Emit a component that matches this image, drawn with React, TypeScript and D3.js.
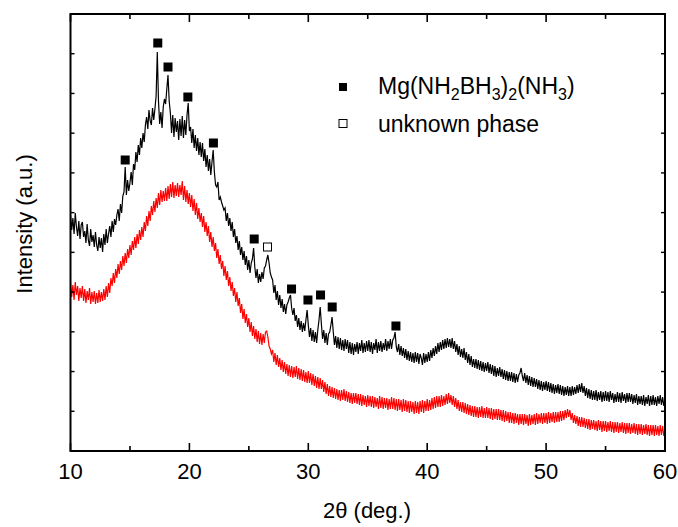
import React from "react";
import * as d3 from "d3";

// 2θ sampling grid: 10.0 … 60.0 in 0.1° steps (501 points)
const thetaStart = 10;
const thetaStep = 0.1;

// Upper (black) pattern, one row per degree
const blackIntensity: number[] = [
  236, 221, 233, 217, 238, 224, 215, 230, 212, 226,
  229, 214, 220, 208, 227, 211, 205, 222, 209, 216,
  204, 219, 206, 200, 214, 203, 213, 199, 217, 206,
  222, 208, 217, 225, 214, 230, 219, 232, 226, 236,
  242, 230, 247, 238, 255, 259, 284, 256, 271, 260,
  268, 279, 266, 287, 281, 299, 289, 306, 296, 313,
  303, 318, 309, 326, 334, 322, 341, 330, 326, 343,
  331, 342, 355, 399, 350, 327, 339, 323, 344, 352,
  347, 362, 376, 350, 338, 318, 336, 314, 333, 319,
  330, 311, 332, 315, 335, 313, 331, 316, 336, 348,
  320, 324, 308, 322, 303, 316, 300, 313, 296, 309,
  294, 308, 290, 302, 284, 296, 280, 292, 276, 289,
  301, 279, 266, 264, 269, 251, 254, 249, 245, 241,
  243, 230, 238, 225, 233, 220, 229, 214, 222, 208,
  215, 201, 210, 196, 204, 191, 200, 186, 195, 181,
  191, 178, 188, 192, 203, 184, 173, 182, 168, 177,
  169, 179, 172, 183, 185, 191, 196, 188, 178, 174,
  171, 158, 166, 151, 160, 146, 156, 143, 152, 139,
  147, 137, 146, 149, 153, 156, 143, 136, 143, 130,
  136, 124, 133, 121, 130, 119, 128, 120, 131, 141,
  126, 114, 123, 110, 121, 109, 119, 108, 121, 131,
  144, 127, 112, 121, 108, 118, 106, 117, 119, 126,
  134, 119, 106, 115, 103, 114, 102, 113, 101, 111,
  100, 112, 102, 111, 98, 109, 97, 108, 96, 107,
  99, 109, 97, 108, 100, 111, 98, 108, 99, 110,
  100, 111, 99, 109, 97, 108, 101, 112, 98, 109,
  100, 110, 99, 108, 101, 112, 100, 110, 102, 112,
  102, 111, 113, 119, 104, 99, 107, 96, 105, 95,
  103, 93, 102, 91, 100, 90, 99, 89, 98, 88,
  99, 89, 98, 87, 97, 93, 86, 98, 88, 97,
  89, 99, 90, 101, 93, 103, 95, 105, 97, 108,
  99, 109, 101, 111, 102, 112, 103, 113, 104, 112,
  103, 113, 102, 110, 99, 107, 96, 105, 94, 102,
  93, 103, 91, 99, 88, 97, 86, 95, 84, 92,
  83, 92, 82, 91, 81, 90, 80, 89, 79, 88,
  80, 89, 78, 87, 77, 86, 75, 85, 74, 83,
  75, 84, 74, 82, 72, 81, 71, 80, 70, 79,
  70, 79, 69, 78, 68, 77, 69, 76, 78, 83,
  75, 70, 78, 68, 76, 66, 75, 65, 74, 64,
  73, 64, 72, 62, 71, 61, 70, 60, 69, 61,
  70, 60, 69, 59, 68, 58, 67, 57, 66, 58,
  67, 57, 66, 56, 65, 55, 64, 56, 65, 55,
  64, 55, 65, 56, 64, 57, 66, 58, 67, 59,
  68, 58, 65, 55, 63, 53, 62, 52, 61, 51,
  60, 51, 61, 50, 59, 51, 60, 49, 59, 50,
  60, 50, 59, 49, 60, 51, 58, 48, 57, 49,
  59, 49, 58, 48, 59, 50, 57, 48, 58, 49,
  58, 49, 57, 47, 56, 48, 57, 46, 55, 47,
  55, 46, 56, 45, 54, 47, 56, 45, 55, 46,
  56, 46, 54, 45, 55, 47, 56, 46, 54, 45,
  52,
];

// Lower (red) pattern
const redIntensity: number[] = [
  168, 154, 166, 151, 169, 156, 165, 150, 163, 153,
  165, 150, 162, 148, 160, 151, 163, 147, 159, 149,
  160, 147, 158, 148, 161, 149, 159, 150, 162, 151,
  165, 154, 168, 158, 173, 165, 178, 168, 182, 173,
  187, 177, 190, 181, 195, 185, 198, 188, 202, 193,
  206, 196, 210, 201, 214, 203, 217, 207, 221, 211,
  224, 214, 229, 220, 235, 225, 240, 230, 245, 236,
  250, 239, 253, 243, 258, 246, 261, 249, 260, 250,
  263, 250, 265, 252, 267, 254, 269, 253, 266, 255,
  268, 254, 266, 256, 270, 251, 265, 249, 261, 247,
  258, 244, 256, 240, 252, 236, 248, 232, 243, 229,
  238, 224, 235, 219, 229, 215, 225, 209, 219, 204,
  214, 200, 208, 193, 202, 187, 196, 182, 190, 175,
  185, 171, 180, 165, 174, 160, 169, 155, 163, 149,
  159, 145, 153, 138, 147, 132, 142, 128, 137, 124,
  133, 119, 129, 115, 125, 112, 122, 109, 120, 107,
  118, 106, 117, 108, 119, 120, 114, 105, 102, 97,
  101, 89, 98, 86, 96, 84, 93, 81, 91, 79,
  89, 77, 87, 75, 86, 74, 85, 73, 84, 74,
  85, 72, 83, 71, 82, 70, 81, 69, 79, 68,
  80, 68, 78, 66, 77, 65, 75, 63, 74, 62,
  73, 62, 71, 59, 69, 57, 67, 55, 65, 54,
  64, 53, 63, 52, 62, 51, 61, 50, 61, 51,
  62, 50, 60, 49, 59, 48, 58, 47, 58, 48,
  58, 47, 57, 46, 57, 45, 56, 46, 55, 44,
  56, 45, 55, 44, 55, 43, 54, 44, 53, 42,
  55, 43, 54, 42, 53, 43, 53, 41, 52, 42,
  54, 42, 53, 41, 52, 40, 52, 41, 51, 39,
  52, 40, 51, 39, 50, 38, 50, 39, 49, 37,
  50, 38, 49, 37, 50, 39, 51, 38, 50, 40,
  52, 40, 51, 41, 53, 42, 54, 43, 55, 44,
  55, 44, 56, 45, 55, 46, 57, 47, 58, 48,
  56, 46, 55, 44, 53, 42, 51, 40, 49, 39,
  49, 38, 48, 37, 47, 36, 46, 35, 45, 34,
  45, 34, 44, 33, 44, 34, 45, 33, 43, 33,
  44, 33, 43, 32, 43, 31, 42, 32, 42, 31,
  42, 31, 41, 30, 41, 29, 40, 30, 39, 28,
  39, 28, 38, 27, 38, 28, 37, 26, 37, 27,
  37, 26, 37, 27, 36, 25, 37, 26, 36, 27,
  37, 26, 38, 27, 37, 28, 38, 27, 38, 28,
  38, 27, 39, 28, 38, 29, 39, 28, 39, 29,
  39, 29, 40, 30, 40, 31, 41, 33, 42, 34,
  41, 31, 38, 28, 36, 27, 35, 25, 34, 24,
  34, 24, 33, 23, 32, 22, 32, 21, 31, 22,
  31, 21, 30, 20, 31, 21, 30, 19, 30, 20,
  30, 19, 29, 20, 30, 19, 29, 18, 29, 19,
  29, 18, 28, 19, 29, 18, 28, 17, 28, 18,
  28, 17, 27, 18, 28, 17, 27, 16, 27, 17,
  27, 16, 26, 17, 27, 16, 26, 15, 26, 16,
  26, 15, 26, 16, 25, 15, 26, 16, 25, 15,
  21,
];

// Peak markers (filled = Mg(NH2BH3)2(NH3), open = unknown phase)
const mgPeakTheta = [14.6, 17.34, 18.2, 19.87, 22.02, 25.45, 28.59, 29.97, 31.03, 32.01, 37.37];
const mgPeakIntensity = [291, 408, 384, 354, 308, 212, 162, 151, 156, 144, 125];
const unknownPeakTheta = [26.57];
const unknownPeakIntensity = [204];

const xTicksMajor = [10, 20, 30, 40, 50, 60];
const xTicksMinor = [15, 25, 35, 45, 55];
const yMax = 437;
const yTickCount = 11;

const FONT = "'Liberation Sans', Arial, Helvetica, sans-serif";

export default function App() {
  const W = 678;
  const H = 527;
  const left = 70.5, right = 665, top = 14, bottom = 451;

  const x = d3.scaleLinear().domain([10, 60]).range([left, right]);
  const y = d3.scaleLinear().domain([0, yMax]).range([bottom, top]);

  const theta = (i: number) => thetaStart + i * thetaStep;
  const line = d3
    .line<number>()
    .x((_, i) => x(theta(i)))
    .y((d) => y(d));

  const yTicks = d3.range(1, yTickCount).map((k) => (k * yMax) / yTickCount);

  const mSize = 9;
  const lSize = 8;

  return (
    <svg
      width={W}
      height={H}
      style={{ position: "absolute", left: 0, top: 0, background: "#fff" }}
      fontFamily={FONT}
    >
      <rect x={0} y={0} width={W} height={H} fill="#fff" />
      <path d={line(redIntensity) || ""} fill="none" stroke="#ff0000" strokeWidth={1.2} />
      <path d={line(blackIntensity) || ""} fill="none" stroke="#000" strokeWidth={1.2} />

      {mgPeakTheta.map((t, i) => (
        <rect
          key={"mg" + i}
          x={x(t) - mSize / 2}
          y={y(mgPeakIntensity[i]) - mSize / 2}
          width={mSize}
          height={mSize}
          fill="#000"
        />
      ))}
      {unknownPeakTheta.map((t, i) => (
        <rect
          key={"un" + i}
          x={x(t) - (mSize - 1) / 2}
          y={y(unknownPeakIntensity[i]) - (mSize - 1) / 2}
          width={mSize - 1}
          height={mSize - 1}
          fill="#fff"
          stroke="#000"
          strokeWidth={1}
        />
      ))}

      {/* frame */}
      <rect
        x={left}
        y={top}
        width={right - left}
        height={bottom - top}
        fill="none"
        stroke="#000"
        strokeWidth={2}
      />

      {/* x ticks */}
      {xTicksMajor.map((t) => (
        <g key={"M" + t}>
          <line x1={x(t)} x2={x(t)} y1={bottom} y2={bottom - 8} stroke="#000" strokeWidth={1.6} />
          <line x1={x(t)} x2={x(t)} y1={top} y2={top + 8} stroke="#000" strokeWidth={1.6} />
          <text x={x(t)} y={479} textAnchor="middle" fontSize={22} fill="#000">
            {t}
          </text>
        </g>
      ))}
      {xTicksMinor.map((t) => (
        <g key={"m" + t}>
          <line x1={x(t)} x2={x(t)} y1={bottom} y2={bottom - 5} stroke="#000" strokeWidth={1.6} />
          <line x1={x(t)} x2={x(t)} y1={top} y2={top + 5} stroke="#000" strokeWidth={1.6} />
        </g>
      ))}

      {/* y ticks (no labels) */}
      {yTicks.map((v, i) => (
        <g key={"y" + i}>
          <line x1={left} x2={left + 4} y1={y(v)} y2={y(v)} stroke="#000" strokeWidth={1.4} />
          <line x1={right} x2={right - 4} y1={y(v)} y2={y(v)} stroke="#000" strokeWidth={1.4} />
        </g>
      ))}

      {/* axis titles */}
      <text x={367} y={518} textAnchor="middle" fontSize={22} fill="#000">
        2θ (deg.)
      </text>
      <text
        transform="translate(32,224) rotate(-90)"
        textAnchor="middle"
        fontSize={22}
        fill="#000"
      >
        Intensity (a.u.)
      </text>

      {/* legend */}
      <rect x={343 - lSize / 2} y={87 - lSize / 2} width={lSize} height={lSize} fill="#000" />
      <text x={378} y={94} fontSize={23} fill="#000">
        Mg(NH
        <tspan fontSize={16} dy={6}>2</tspan>
        <tspan dy={-6}>BH</tspan>
        <tspan fontSize={16} dy={6}>3</tspan>
        <tspan dy={-6}>)</tspan>
        <tspan fontSize={16} dy={6}>2</tspan>
        <tspan dy={-6}>(NH</tspan>
        <tspan fontSize={16} dy={6}>3</tspan>
        <tspan dy={-6}>)</tspan>
      </text>
      <rect
        x={343 - lSize / 2}
        y={123.5 - lSize / 2}
        width={lSize}
        height={lSize}
        fill="#fff"
        stroke="#000"
        strokeWidth={1}
      />
      <text x={378} y={132} fontSize={23} fill="#000">
        unknown phase
      </text>
    </svg>
  );
}
